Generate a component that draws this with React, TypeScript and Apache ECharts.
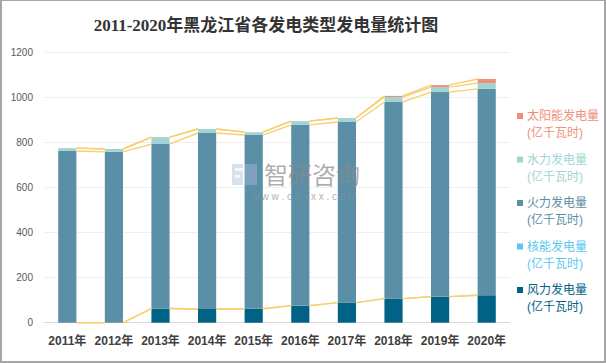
import React, { useEffect, useRef } from "react";
import * as echarts from "echarts";

const years = ["2011年", "2012年", "2013年", "2014年", "2015年", "2016年", "2017年", "2018年", "2019年", "2020年"];
const windValues = [0, 0, 63, 61, 62, 76, 89, 107, 116, 122];
const nuclearValues = [0, 0, 0, 0, 0, 0, 0, 0, 0, 0];
const thermalValues = [763, 759, 731, 782, 772, 803, 803, 874, 909, 917];
const hydroValues = [13, 13, 31, 18, 13, 17, 18, 22, 22, 26];
const solarValues = [0, 0, 0, 0, 0, 0, 0, 5, 9, 18];
const seriesNames = ["风力发电量", "核能发电量", "火力发电量", "水力发电量", "太阳能发电量"];
const seriesColors = ["#006385", "#5BC7F0", "#5B8FA7", "#A2D5D2", "#F08E79"];
const unitLabel = "(亿千瓦时)";
const titleText = "2011-2020年黑龙江省各发电类型发电量统计图";
const yMax = 1200;
const yStep = 200;

const FONT = "'Liberation Sans','Noto Sans CJK SC',sans-serif";

export default function App() {
  const ref = useRef<HTMLDivElement>(null);
  useEffect(() => {
    document.body.style.margin = "0";
    if (!ref.current) return;
    const chart = echarts.init(ref.current, undefined, { renderer: "svg" });
    const valueSets = [windValues, nuclearValues, thermalValues, hydroValues, solarValues];
    const levels: number[][] = [];
    valueSets.forEach((vals, k) => {
      levels.push(vals.map((v, i) => v + (k > 0 ? levels[k - 1][i] : 0)));
    });
    const lineData: number[][] = [];
    for (let i = 0; i < years.length - 1; i++) {
      const row = [i];
      levels.forEach((l) => row.push(l[i], l[i + 1]));
      lineData.push(row);
    }
    const barWidthRatio = 0.39;

    const legendGraphics: any[] = [];
    const order = [4, 3, 2, 1, 0];
    order.forEach((k, j) => {
      const y = 116 + j * 43.5;
      legendGraphics.push({
        type: "rect",
        shape: { x: 517, y: y - 3, width: 6, height: 6 },
        style: { fill: seriesColors[k] },
      });
      legendGraphics.push({
        type: "text",
        x: 527,
        y: y,
        style: { text: seriesNames[k], fill: seriesColors[k], font: `12px ${FONT}`, textVerticalAlign: "middle" },
      });
      legendGraphics.push({
        type: "text",
        x: 527,
        y: y + 17,
        style: { text: unitLabel, fill: seriesColors[k], font: `12px ${FONT}`, textVerticalAlign: "middle" },
      });
    });

    const wmZ = 100;
    const watermark = [
      { type: "rect", z: wmZ, shape: { x: 232, y: 164, width: 11, height: 21 }, style: { fill: "#C9D5E4", opacity: 0.7 } },
      { type: "rect", z: wmZ, shape: { x: 245, y: 164, width: 12, height: 21 }, style: { fill: "#8EA8CA", opacity: 0.7 } },
      { type: "rect", z: wmZ, shape: { x: 235, y: 168, width: 8, height: 3 }, style: { fill: "#ffffff", opacity: 0.7 } },
      { type: "rect", z: wmZ, shape: { x: 235, y: 175, width: 5, height: 3 }, style: { fill: "#ffffff", opacity: 0.7 } },
      {
        type: "text",
        z: wmZ,
        x: 264,
        y: 173,
        style: { text: "智研咨询", fill: "#8a8a8a", opacity: 0.7, font: `24px 'Noto Sans CJK SC',sans-serif`, textVerticalAlign: "middle" },
      },
      {
        type: "text",
        z: wmZ,
        x: 304,
        y: 196,
        style: { text: "w w w . c h y x x . c o m", fill: "#8a8a8a", opacity: 0.7, font: `10px ${FONT}`, textAlign: "center", textVerticalAlign: "middle" },
      },
    ];

    const barSeries = valueSets.map((vals, k) => ({
      name: seriesNames[k],
      type: "bar",
      stack: "total",
      barWidth: barWidthRatio * 100 + "%",
      itemStyle: { color: seriesColors[k] },
      data: vals,
      z: 2,
    }));

    chart.setOption({
      animation: false,
      title: {
        text: titleText,
        left: 261,
        top: 12,
        textAlign: "center",
        textStyle: { fontFamily: "'Liberation Serif','Noto Sans CJK SC',serif", fontSize: 17, fontWeight: "bold", color: "#333333" },
      },
      grid: { left: 44, right: 96, top: 52.7, bottom: 40.3 },
      xAxis: {
        type: "category",
        data: years,
        axisTick: { show: false },
        axisLine: { lineStyle: { color: "#D9D9D9" } },
        axisLabel: { interval: 0, fontSize: 12, fontWeight: "bold", color: "#404040", margin: 12, fontFamily: FONT },
      },
      yAxis: {
        type: "value",
        min: 0,
        max: yMax,
        interval: yStep,
        axisLine: { show: false },
        axisTick: { show: false },
        splitLine: { lineStyle: { color: "#EFEFEF" } },
        axisLabel: { fontSize: 10, color: "#595959", margin: 11, fontFamily: FONT, formatter: (v: number) => String(v) },
      },
      series: [
        ...barSeries,
        {
          type: "custom",
          name: "series-lines",
          z: 3,
          encode: { x: 0, y: 1 },
          data: lineData,
          renderItem: (params: any, api: any) => {
            const i = api.value(0);
            const half = (api.size([1, 0])[0] * barWidthRatio) / 2;
            const children: any[] = [];
            for (let k = 0; k < levels.length; k++) {
              const a = api.coord([i, api.value(1 + 2 * k)]);
              const b = api.coord([i + 1, api.value(2 + 2 * k)]);
              children.push({
                type: "line",
                shape: { x1: a[0] + half, y1: a[1], x2: b[0] - half, y2: b[1] },
                style: { stroke: "#F7CF72", lineWidth: 1.4 },
              });
            }
            return { type: "group", children };
          },
        },
      ],
      graphic: [...legendGraphics, ...watermark],
    });
    return () => chart.dispose();
  }, []);
  return (
    <div style={{ position: "relative", width: 606, height: 363 }}>
      <div ref={ref} style={{ position: "absolute", left: 0, top: 0, width: 606, height: 363 }} />
      <div
        style={{
          position: "absolute",
          left: 0,
          top: 0,
          width: 606,
          height: 363,
          boxSizing: "border-box",
          borderStyle: "solid",
          borderColor: "#A6A6A6",
          borderWidth: "1px 2px 2px 2px",
          pointerEvents: "none",
        }}
      />
    </div>
  );
}
